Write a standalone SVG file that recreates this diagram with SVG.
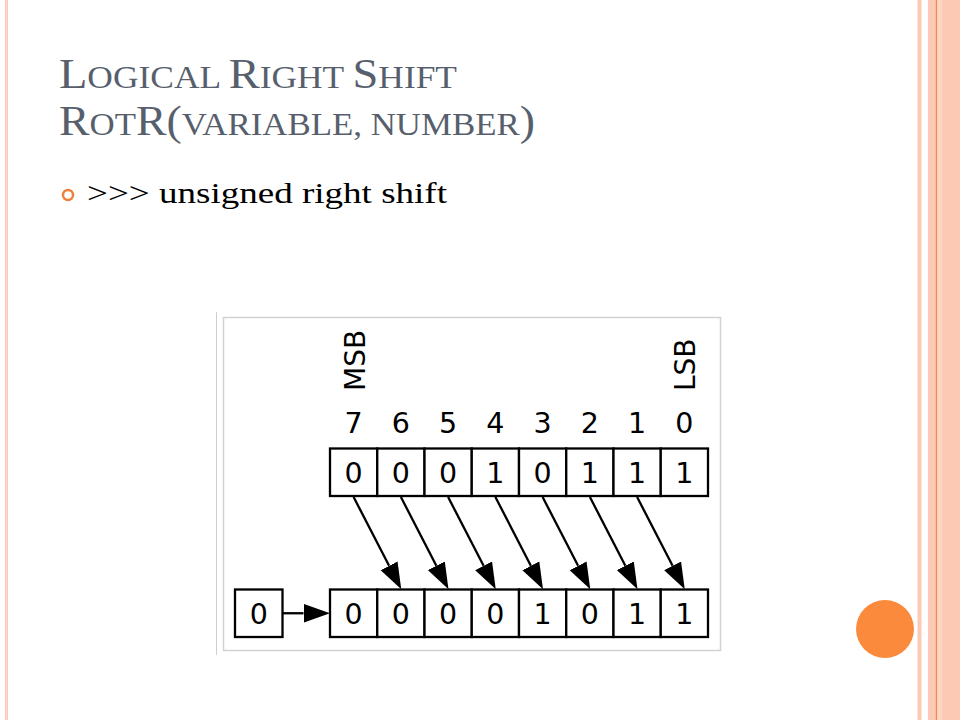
<svg xmlns="http://www.w3.org/2000/svg" width="960" height="720" viewBox="0 0 960 720">
<style>
.pink{fill:#FCC9B4}
.title{font-family:"Liberation Serif",serif;fill:#575F6D}
.big{font-size:42px}
.sm{font-size:32px}
.body{font-family:"Liberation Serif",serif;font-size:30px;fill:#000}
.cell{fill:#fff;stroke:#000;stroke-width:2.3}
.dg{font-family:"DejaVu Sans",sans-serif;font-size:28.5px;fill:#000;text-anchor:middle}
.lbl{font-family:"DejaVu Sans",sans-serif;font-size:28px;fill:#000}
.conn{stroke:#000;stroke-width:2.3;fill:none}
</style>
<defs>
<marker id="ah" markerUnits="userSpaceOnUse" viewBox="0 0 27 20" markerWidth="27" markerHeight="20" refX="0" refY="10" orient="auto">
<path d="M0,0.5 L26.5,10 L0,19.5 Z" fill="#000"/>
</marker>
</defs>
<rect width="960" height="720" fill="#fff"/>
<g id="border">
<rect x="5" y="0" width="3" height="720" class="pink"/>
<rect x="6.2" y="0" width="0.7" height="720" fill="#FDE3D8"/>
<rect x="917.5" y="0" width="4" height="720" class="pink"/>
<rect x="928" y="0" width="32" height="720" class="pink"/>
<rect x="937" y="0" width="5" height="720" fill="#FDD6C3"/>
<rect x="935.8" y="0" width="1.3" height="720" fill="#EE8C58"/>
<circle cx="885" cy="629" r="29" fill="#FB8A3C"/>
</g>
<g id="title">
<text class="title" x="59" y="88" textLength="398" lengthAdjust="spacingAndGlyphs"><tspan class="big">L</tspan><tspan class="sm">OGICAL </tspan><tspan class="big">R</tspan><tspan class="sm">IGHT </tspan><tspan class="big">S</tspan><tspan class="sm">HIFT</tspan></text>
<text class="title" x="59" y="135" textLength="476" lengthAdjust="spacingAndGlyphs"><tspan class="big">R</tspan><tspan class="sm">OT</tspan><tspan class="big">R(</tspan><tspan class="sm">VARIABLE, NUMBER</tspan><tspan class="big">)</tspan></text>
</g>
<g id="bullet">
<circle cx="68" cy="195" r="5" fill="none" stroke="#EE7F3A" stroke-width="2.5"/>
<text class="body" x="87" y="203" textLength="360" lengthAdjust="spacingAndGlyphs">&gt;&gt;&gt; unsigned right shift</text>
</g>
<g id="figure-frame">
<rect x="216" y="312" width="506" height="343" fill="#fff"/>
<line x1="216.5" y1="312" x2="216.5" y2="655" stroke="#cfcfcf" stroke-width="1"/>
<rect x="223.5" y="317.5" width="497" height="333" fill="none" stroke="#d2d2d2" stroke-width="1.5"/>
</g>
<g id="labels">
<text class="lbl" transform="translate(365,391) rotate(-90)">MSB</text>
<text class="lbl" transform="translate(695,391) rotate(-90)">LSB</text>
<text class="dg" x="353.6" y="433">7</text>
<text class="dg" x="400.9" y="433">6</text>
<text class="dg" x="448.1" y="433">5</text>
<text class="dg" x="495.4" y="433">4</text>
<text class="dg" x="542.6" y="433">3</text>
<text class="dg" x="589.9" y="433">2</text>
<text class="dg" x="637.1" y="433">1</text>
<text class="dg" x="684.4" y="433">0</text>
</g>
<g id="top-row">
<g id="t7"><rect class="cell" x="330" y="448.5" width="47.25" height="47.5"/><text class="dg" x="353.6" y="482.5">0</text></g>
<g id="t6"><rect class="cell" x="377.25" y="448.5" width="47.25" height="47.5"/><text class="dg" x="400.9" y="482.5">0</text></g>
<g id="t5"><rect class="cell" x="424.5" y="448.5" width="47.25" height="47.5"/><text class="dg" x="448.1" y="482.5">0</text></g>
<g id="t4"><rect class="cell" x="471.75" y="448.5" width="47.25" height="47.5"/><text class="dg" x="495.4" y="482.5">1</text></g>
<g id="t3"><rect class="cell" x="519" y="448.5" width="47.25" height="47.5"/><text class="dg" x="542.6" y="482.5">0</text></g>
<g id="t2"><rect class="cell" x="566.25" y="448.5" width="47.25" height="47.5"/><text class="dg" x="589.9" y="482.5">1</text></g>
<g id="t1"><rect class="cell" x="613.5" y="448.5" width="47.25" height="47.5"/><text class="dg" x="637.1" y="482.5">1</text></g>
<g id="t0"><rect class="cell" x="660.75" y="448.5" width="47.25" height="47.5"/><text class="dg" x="684.4" y="482.5">1</text></g>
</g>
<g id="bottom-row">
<g id="zero-in"><rect class="cell" x="235" y="589.5" width="47.5" height="47.5"/><text class="dg" x="258.8" y="623.5">0</text></g>
<g id="b7"><rect class="cell" x="330" y="589.5" width="47.25" height="47.5"/><text class="dg" x="353.6" y="623.5">0</text></g>
<g id="b6"><rect class="cell" x="377.25" y="589.5" width="47.25" height="47.5"/><text class="dg" x="400.9" y="623.5">0</text></g>
<g id="b5"><rect class="cell" x="424.5" y="589.5" width="47.25" height="47.5"/><text class="dg" x="448.1" y="623.5">0</text></g>
<g id="b4"><rect class="cell" x="471.75" y="589.5" width="47.25" height="47.5"/><text class="dg" x="495.4" y="623.5">0</text></g>
<g id="b3"><rect class="cell" x="519" y="589.5" width="47.25" height="47.5"/><text class="dg" x="542.6" y="623.5">1</text></g>
<g id="b2"><rect class="cell" x="566.25" y="589.5" width="47.25" height="47.5"/><text class="dg" x="589.9" y="623.5">0</text></g>
<g id="b1"><rect class="cell" x="613.5" y="589.5" width="47.25" height="47.5"/><text class="dg" x="637.1" y="623.5">1</text></g>
<g id="b0"><rect class="cell" x="660.75" y="589.5" width="47.25" height="47.5"/><text class="dg" x="684.4" y="623.5">1</text></g>
</g>
<g id="connectors">
<path class="conn" marker-end="url(#ah)" d="M353.6,497 L389.1,565.8"/>
<path class="conn" marker-end="url(#ah)" d="M400.9,497 L436.35,565.8"/>
<path class="conn" marker-end="url(#ah)" d="M448.1,497 L483.6,565.8"/>
<path class="conn" marker-end="url(#ah)" d="M495.4,497 L530.85,565.8"/>
<path class="conn" marker-end="url(#ah)" d="M542.6,497 L578.1,565.8"/>
<path class="conn" marker-end="url(#ah)" d="M589.9,497 L625.35,565.8"/>
<path class="conn" marker-end="url(#ah)" d="M637.1,497 L672.6,565.8"/>
<path class="conn" marker-end="url(#ah)" d="M282.5,613.25 L303.5,613.25"/>
</g>
</svg>
